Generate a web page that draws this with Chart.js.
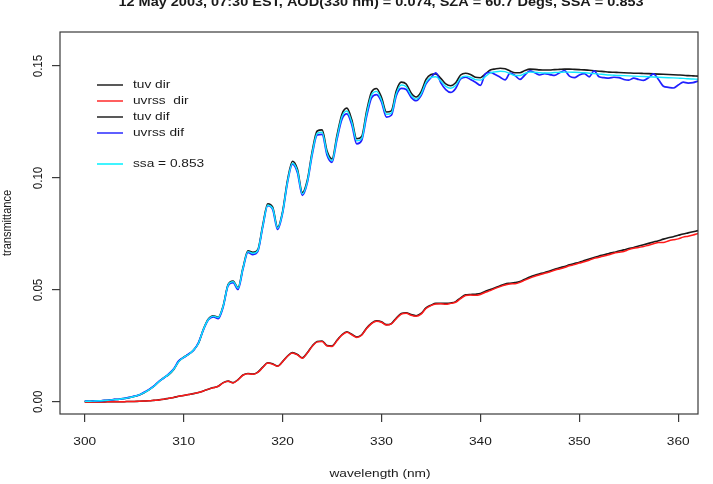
<!DOCTYPE html>
<html>
<head>
<meta charset="utf-8">
<script src="https://cdn.jsdelivr.net/npm/chart.js@4"></script>
<style>
html,body{margin:0;padding:0;background:#fff;}
#c{display:block;}
</style>
</head>
<body>
<canvas id="c" width="713" height="484"></canvas>
<script>
// ---------------- data ----------------
const titleText = "12 May 2003, 07:30 EST, AOD(330 nm) = 0.074, SZA = 60.7 Degs, SSA = 0.853";
const xTitle = "wavelength (nm)";
const yTitle = "transmittance";
const xTickValues = [300, 310, 320, 330, 340, 350, 360];
const yTickValues = [0.00, 0.05, 0.10, 0.15];
const legendLabels = ["tuv dir", "uvrss  dir", "tuv dif", "uvrss dif", "", "ssa = 0.853"];
const legendColors = ["#222222", "#ff2a2a", "#222222", "#2a2aff", null, "#00f0ff"];

const wavelength = [
300,300.5,301,301.5,302,302.5,303,303.5,304,304.5,
305,305.5,306,306.5,307,307.5,308,308.5,309,309.5,
310,310.5,311,311.5,312,312.5,313,313.5,314,314.5,
315,315.5,316,316.5,317,317.5,318,318.5,319,319.5,
320,320.5,321,321.5,322,322.5,323,323.5,324,324.5,
325,325.5,326,326.5,327,327.5,328,328.5,329,329.5,
330,330.5,331,331.5,332,332.5,333,333.5,334,334.5,
335,335.5,336,336.5,337,337.5,338,338.5,339,339.5,
340,340.5,341,341.5,342,342.5,343,343.5,344,344.5,
345,345.5,346,346.5,347,347.5,348,348.5,349,349.5,
350,350.5,351,351.5,352,352.5,353,353.5,354,354.5,
355,355.5,356,356.5,357,357.5,358,358.5,359,359.5,
360,360.5,361,361.5,362];

const tuvDir = [
0.0000,0.0000,0.0000,0.0000,0.0000,0.0001,0.0001,0.0001,0.0001,0.0002,
0.0002,0.0003,0.0004,0.0005,0.0007,0.0009,0.0012,0.0016,0.0020,0.0025,
0.0029,0.0033,0.0037,0.0042,0.0049,0.0057,0.0064,0.0070,0.0086,0.0093,
0.0086,0.0100,0.0120,0.0127,0.0124,0.0133,0.0155,0.0175,0.0170,0.0160,
0.0180,0.0205,0.0220,0.0212,0.0197,0.0220,0.0250,0.0270,0.0272,0.0252,
0.0250,0.0275,0.0300,0.0313,0.0302,0.0290,0.0300,0.0330,0.0352,0.0362,
0.0358,0.0345,0.0350,0.0375,0.0395,0.0398,0.0390,0.0385,0.0395,0.0420,
0.0432,0.0440,0.0440,0.0440,0.0442,0.0448,0.0465,0.0478,0.0480,0.0481,
0.0484,0.0494,0.0502,0.0510,0.0519,0.0527,0.0530,0.0533,0.0538,0.0548,
0.0558,0.0566,0.0572,0.0578,0.0585,0.0592,0.0599,0.0605,0.0612,0.0618,
0.0624,0.0631,0.0638,0.0645,0.0652,0.0657,0.0663,0.0668,0.0674,0.0679,
0.0685,0.0690,0.0696,0.0702,0.0708,0.0714,0.0720,0.0727,0.0733,0.0738,
0.0744,0.0750,0.0755,0.0760,0.0765];

const uvrssDir = [
0.0000,0.0000,0.0000,0.0000,0.0000,0.0001,0.0001,0.0001,0.0001,0.0002,
0.0002,0.0003,0.0004,0.0005,0.0007,0.0009,0.0012,0.0016,0.0020,0.0025,
0.0029,0.0033,0.0037,0.0042,0.0049,0.0057,0.0063,0.0070,0.0085,0.0092,
0.0085,0.0099,0.0119,0.0126,0.0123,0.0132,0.0154,0.0174,0.0168,0.0159,
0.0179,0.0204,0.0218,0.0210,0.0195,0.0218,0.0248,0.0268,0.0270,0.0250,
0.0248,0.0273,0.0298,0.0311,0.0300,0.0288,0.0298,0.0328,0.0350,0.0360,
0.0356,0.0343,0.0348,0.0372,0.0392,0.0396,0.0387,0.0383,0.0392,0.0417,
0.0430,0.0437,0.0438,0.0436,0.0440,0.0445,0.0461,0.0475,0.0477,0.0476,
0.0480,0.0490,0.0497,0.0507,0.0515,0.0522,0.0527,0.0528,0.0534,0.0544,
0.0553,0.0561,0.0568,0.0575,0.0580,0.0588,0.0594,0.0600,0.0608,0.0613,
0.0620,0.0626,0.0633,0.0641,0.0646,0.0652,0.0657,0.0664,0.0668,0.0672,
0.0680,0.0686,0.0690,0.0694,0.0700,0.0706,0.0712,0.0712,0.0719,0.0724,
0.0728,0.0736,0.0740,0.0745,0.0752];

const tuvDif = [
0.0003,0.0003,0.0004,0.0005,0.0006,0.0008,0.0010,0.0012,0.0015,0.0019,
0.0024,0.0031,0.0041,0.0054,0.0070,0.0090,0.0108,0.0122,0.0145,0.0180,
0.0200,0.0212,0.0232,0.0262,0.0325,0.0370,0.0385,0.0378,0.0430,0.0525,
0.0540,0.0510,0.0600,0.0675,0.0668,0.0680,0.0790,0.0885,0.0870,0.0780,
0.0850,0.0990,0.1075,0.1040,0.0935,0.0990,0.1120,0.1210,0.1215,0.1120,
0.1085,0.1190,0.1285,0.1312,0.1260,0.1175,0.1185,0.1300,0.1385,0.1400,
0.1360,0.1295,0.1300,0.1390,0.1428,0.1420,0.1380,0.1362,0.1385,0.1440,
0.1462,0.1465,0.1445,0.1420,0.1412,0.1425,0.1460,0.1468,0.1462,0.1450,
0.1448,0.1465,0.1482,0.1487,0.1490,0.1488,0.1478,0.1470,0.1470,0.1480,
0.1486,0.1485,0.1483,0.1482,0.1482,0.1484,0.1485,0.1486,0.1486,0.1485,
0.1484,0.1483,0.1481,0.1479,0.1477,0.1475,0.1473,0.1472,0.1471,0.1470,
0.1469,0.1468,0.1468,0.1467,0.1466,0.1465,0.1464,0.1463,0.1462,0.1461,
0.1460,0.1459,0.1457,0.1456,0.1455];

const uvrssDif = [
0.0004,0.0003,0.0005,0.0004,0.0007,0.0008,0.0011,0.0012,0.0016,0.0020,
0.0026,0.0031,0.0043,0.0056,0.0071,0.0092,0.0107,0.0125,0.0148,0.0183,
0.0198,0.0214,0.0230,0.0265,0.0322,0.0367,0.0380,0.0372,0.0425,0.0520,
0.0533,0.0502,0.0593,0.0668,0.0658,0.0672,0.0782,0.0876,0.0860,0.0770,
0.0842,0.0980,0.1062,0.1025,0.0922,0.0978,0.1105,0.1192,0.1195,0.1102,
0.1070,0.1172,0.1262,0.1286,0.1238,0.1152,0.1168,0.1275,0.1358,0.1372,
0.1340,0.1272,0.1280,0.1368,0.1400,0.1395,0.1360,0.1345,0.1368,0.1420,
0.1448,0.1470,0.1425,0.1395,0.1382,0.1400,0.1442,0.1450,0.1440,0.1428,
0.1414,0.1465,0.1472,0.1462,0.1450,0.1438,0.1468,0.1458,0.1440,0.1460,
0.1478,0.1470,0.1460,0.1466,0.1462,0.1458,0.1470,0.1480,0.1455,0.1448,
0.1460,0.1466,0.1452,0.1478,0.1452,0.1448,0.1446,0.1450,0.1448,0.1440,
0.1437,0.1446,0.1440,0.1436,0.1448,0.1465,0.1440,0.1410,0.1405,0.1402,
0.1415,0.1428,0.1424,0.1426,0.1433];

const ssaDif = [
0.0003,0.0003,0.0004,0.0005,0.0006,0.0008,0.0010,0.0012,0.0015,0.0019,
0.0024,0.0031,0.0041,0.0054,0.0070,0.0090,0.0108,0.0123,0.0146,0.0180,
0.0199,0.0212,0.0232,0.0262,0.0324,0.0368,0.0383,0.0377,0.0428,0.0522,
0.0537,0.0508,0.0597,0.0671,0.0664,0.0677,0.0785,0.0878,0.0864,0.0776,
0.0845,0.0983,0.1066,0.1032,0.0929,0.0983,0.1111,0.1199,0.1204,0.1111,
0.1077,0.1180,0.1273,0.1299,0.1249,0.1166,0.1176,0.1288,0.1372,0.1387,
0.1348,0.1285,0.1290,0.1377,0.1415,0.1408,0.1369,0.1352,0.1374,0.1427,
0.1449,0.1452,0.1433,0.1409,0.1401,0.1413,0.1447,0.1455,0.1450,0.1439,
0.1437,0.1453,0.1469,0.1474,0.1477,0.1475,0.1466,0.1458,0.1458,0.1467,
0.1473,0.1472,0.1470,0.1469,0.1469,0.1471,0.1472,0.1473,0.1473,0.1472,
0.1471,0.1470,0.1468,0.1466,0.1464,0.1462,0.1460,0.1459,0.1458,0.1457,
0.1456,0.1455,0.1454,0.1453,0.1452,0.1451,0.1450,0.1449,0.1448,0.1447,
0.1446,0.1445,0.1443,0.1442,0.1441];

// ---------------- chart ----------------
const SX = 1.19; // horizontal stretch of the reference text
const FONT = '"Liberation Sans", Arial, Helvetica, sans-serif';

function pts(arr){ return wavelength.map((w,i)=>({x:w, y:arr[i]})); }

function ds(label, arr, color, order, width){
  return {label, data: pts(arr), borderColor: color, borderWidth: width || 1.5,
          pointRadius: 0, fill: false, cubicInterpolationMode: 'monotone', order};
}

function stretchText(ctx, txt, x, y, font, align, baseline, rotate){
  ctx.save();
  ctx.translate(x, y);
  ctx.scale(SX, 1);
  if (rotate) ctx.rotate(-Math.PI/2);
  ctx.font = font;
  ctx.textAlign = align;
  ctx.textBaseline = baseline;
  ctx.fillStyle = '#1a1a1a';
  ctx.fillText(txt, 0, 0);
  ctx.restore();
}

const decor = {
  id: 'decor',
  afterDraw(chart){
    const ctx = chart.ctx, a = chart.chartArea;
    const xs = chart.scales.x, ys = chart.scales.y;
    ctx.save();
    ctx.strokeStyle = '#3a3a3a';
    ctx.lineWidth = 1.2;
    ctx.strokeRect(a.left, a.top, a.right - a.left, a.bottom - a.top);
    ctx.restore();
    stretchText(ctx, titleText, (a.left + a.right)/2 + 2, 5.5, 'bold 12.2px ' + FONT, 'center', 'alphabetic', false);
    xs.ticks.forEach(t => {
      stretchText(ctx, String(t.value), xs.getPixelForValue(t.value), 444.5, '11.5px ' + FONT, 'center', 'alphabetic', false);
    });
    ys.ticks.forEach(t => {
      stretchText(ctx, t.value.toFixed(2), 41.5, ys.getPixelForValue(t.value), '11.5px ' + FONT, 'center', 'alphabetic', true);
    });
    stretchText(ctx, xTitle, (a.left + a.right)/2 + 1, 477, '11.5px ' + FONT, 'center', 'alphabetic', false);
    stretchText(ctx, yTitle, 10.5, (a.top + a.bottom)/2, '11px ' + FONT, 'center', 'alphabetic', true);
    const rowY = [85, 101, 117, 133, 149, 164];
    legendLabels.forEach((lab, i) => {
      if (!lab) return;
      ctx.save();
      ctx.strokeStyle = legendColors[i];
      ctx.lineWidth = 1.5;
      ctx.beginPath();
      ctx.moveTo(97, rowY[i]);
      ctx.lineTo(123, rowY[i]);
      ctx.stroke();
      ctx.restore();
      stretchText(ctx, lab, 133, rowY[i], '11.5px ' + FONT, 'left', 'middle', false);
    });
  }
};

new Chart(document.getElementById('c'), {
  type: 'line',
  data: {
    datasets: [
      ds('ssa = 0.853', ssaDif, '#10e8ff', 1, 1.4),
      ds('uvrss dif', uvrssDif, '#2020ff', 2, 1.7),
      ds('tuv dif', tuvDif, '#1a1a1a', 3, 1.6),
      ds('uvrss  dir', uvrssDir, '#ff1a1a', 4, 1.5),
      ds('tuv dir', tuvDir, '#1a1a1a', 5, 1.6)
    ]
  },
  options: {
    responsive: false,
    devicePixelRatio: 1,
    animation: false,
    layout: { padding: { top: 32, right: 15, left: 0, bottom: 0 } },
    plugins: { legend: { display: false }, tooltip: { enabled: false }, title: { display: false } },
    scales: {
      x: {
        type: 'linear', min: 297.5, max: 362,
        afterBuildTicks: s => { s.ticks = xTickValues.map(v => ({value: v})); },
        afterFit: s => { s.height = 70; },
        ticks: { display: false },
        border: { display: false },
        grid: { drawOnChartArea: false, drawTicks: true, tickLength: 8, color: '#3a3a3a', lineWidth: 1.2 }
      },
      y: {
        type: 'linear', min: -0.0054, max: 0.1652,
        afterBuildTicks: s => { s.ticks = yTickValues.map(v => ({value: v})); },
        afterFit: s => { s.width = 60; },
        ticks: { display: false },
        border: { display: false },
        grid: { drawOnChartArea: false, drawTicks: true, tickLength: 8, color: '#3a3a3a', lineWidth: 1.2 }
      }
    }
  },
  plugins: [decor]
});
</script>
</body>
</html>
